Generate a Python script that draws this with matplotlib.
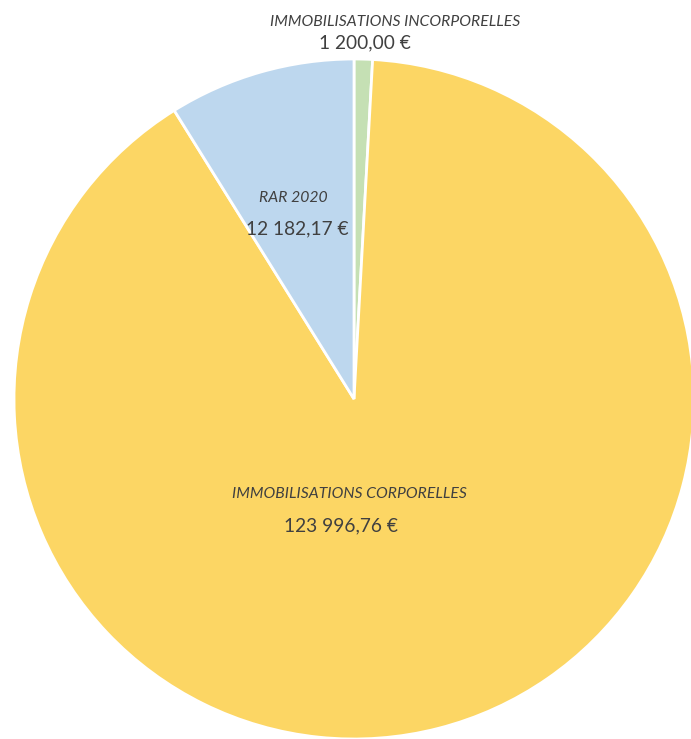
import matplotlib
matplotlib.use("Agg")
from matplotlib import pyplot as plt

labels = ['IMMOBILISATIONS INCORPORELLES', 'IMMOBILISATIONS CORPORELLES', 'RAR 2020']
values = [1200.00, 123996.76, 12182.17]
value_text = ['1 200,00 €', '123 996,76 €', '12 182,17 €']
colors = ['#C5E0B4', '#FCD664', '#BDD7EE']

W, H = 691, 739

fig = plt.figure(figsize=(W/100, H/100), dpi=100)
ax = fig.add_axes([0, 0, 1, 1])

ax.pie(values, colors=colors, startangle=90, counterclock=False,
       center=(354, H-399), radius=340, frame=True,
       wedgeprops=dict(edgecolor='white', linewidth=2))
ax.set_xlim(0, W)
ax.set_ylim(0, H)
ax.set_aspect('equal')
ax.axis('off')

# label positions (pixel coords, top-down)
name_pos = [(395, 22), (349, 494), (293, 198)]
val_pos = [(365, 43), (341, 526), (297, 229)]

txt = '#404040'
for i in range(len(labels)):
    x, y = name_pos[i]
    ax.text(x, H-y, labels[i], ha='center', va='center', fontsize=11.3,
            style='italic', color=txt, family='Lato')
    x, y = val_pos[i]
    ax.text(x, H-y, value_text[i], ha='center', va='center', fontsize=13.8,
            color=txt, family='Lato')

fig.savefig('out.png', dpi=100)
